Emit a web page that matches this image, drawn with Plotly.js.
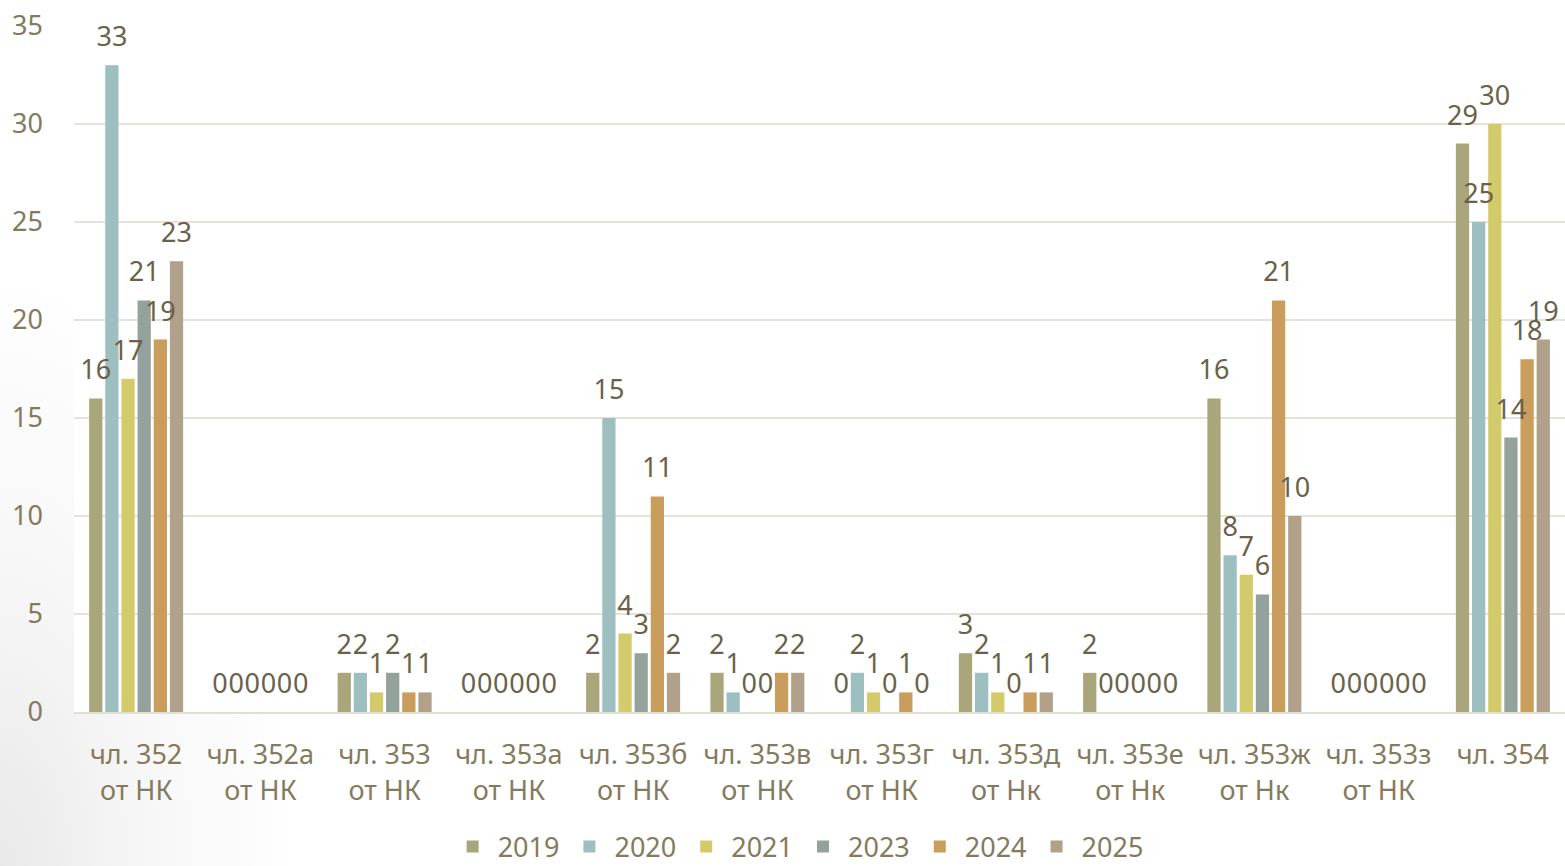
<!DOCTYPE html>
<html><head><meta charset="utf-8">
<script src="https://cdn.plot.ly/plotly-3.0.1.min.js"></script>
<style>html,body{margin:0;padding:0;background:#fff;}
#chart{width:1565px;height:866px;background:radial-gradient(ellipse 300px 600px at 0% 100%, #e9e9e9 0%, #f7f7f7 50%, #ffffff 100%);}</style>
</head><body><div id="chart"></div>
<script>
const categories = ["чл. 352<br>от НК","чл. 352а<br>от НК","чл. 353<br>от НК","чл. 353а<br>от НК","чл. 353б<br>от НК","чл. 353в<br>от НК","чл. 353г<br>от НК","чл. 353д<br>от Нк","чл. 353е<br>от Нк","чл. 353ж<br>от Нк","чл. 353з<br>от НК","чл. 354"];
const seriesNames = ["2019","2020","2021","2023","2024","2025"];
const v2019 = [16,0,2,0,2,2,0,3,2,16,0,29];
const v2020 = [33,0,2,0,15,1,2,2,0,8,0,25];
const v2021 = [17,0,1,0,4,0,1,1,0,7,0,30];
const v2023 = [21,0,2,0,3,0,0,0,0,6,0,14];
const v2024 = [19,0,1,0,11,2,1,1,0,21,0,18];
const v2025 = [23,0,1,0,2,2,0,1,0,10,0,19];
const colors = ["#a9a67b","#9dbfbf","#d3cb6b","#93a29a","#c99d5b","#b1a08a"];
const values = [v2019,v2020,v2021,v2023,v2024,v2025];
const font = "Noto Sans, Open Sans, sans-serif";
const bars = values.map((v,i)=>({
  type:'bar', name:seriesNames[i], x:categories, y:v,
  marker:{color:colors[i]}, textposition:'none', offsetgroup:'g'+i
}));
const labels = values.map((v,i)=>({
  type:'scatter', mode:'markers+text', name:seriesNames[i]+' labels', showlegend:false,
  x:categories, y:v, offsetgroup:'g'+i,
  marker:{size:18,opacity:0,color:colors[i]},
  text:v.map(String), textposition:'top center', cliponaxis:false,
  textfont:{family:font,size:27,color:'#6b6149'}
}));
const layout = {
  width:1565, height:866,
  margin:{l:74,r:0,t:26,b:154},
  paper_bgcolor:'rgba(0,0,0,0)', plot_bgcolor:'rgba(255,255,255,1)',
  barmode:'group', bargap:0.22, bargroupgap:0.18,
  scattermode:'group', scattergap:0.22,
  font:{family:font,size:27,color:'#857a5c'},
  xaxis:{automargin:false,tickfont:{family:font,size:27,color:'#857a5c'},showline:true,linecolor:'#e3ded5',linewidth:2,ticks:'',ticklabelstandoff:18},
  yaxis:{automargin:false,range:[0,35],dtick:5,gridcolor:'#e6e2da',gridwidth:2,zeroline:false,
    tickfont:{family:font,size:27,color:'#857a5c'},ticklabelstandoff:30},
  showlegend:true,
  legend:{orientation:'h',x:0.51,xanchor:'center',xref:'container',yref:'container',y:0.022,yanchor:'middle',
    font:{family:font,size:27,color:'#857a5c'},itemwidth:40,traceorder:'normal',bgcolor:'rgba(0,0,0,0)'}
};
Plotly.newPlot('chart',bars.concat(labels),layout,{displayModeBar:false,staticPlot:true});
</script></body></html>
